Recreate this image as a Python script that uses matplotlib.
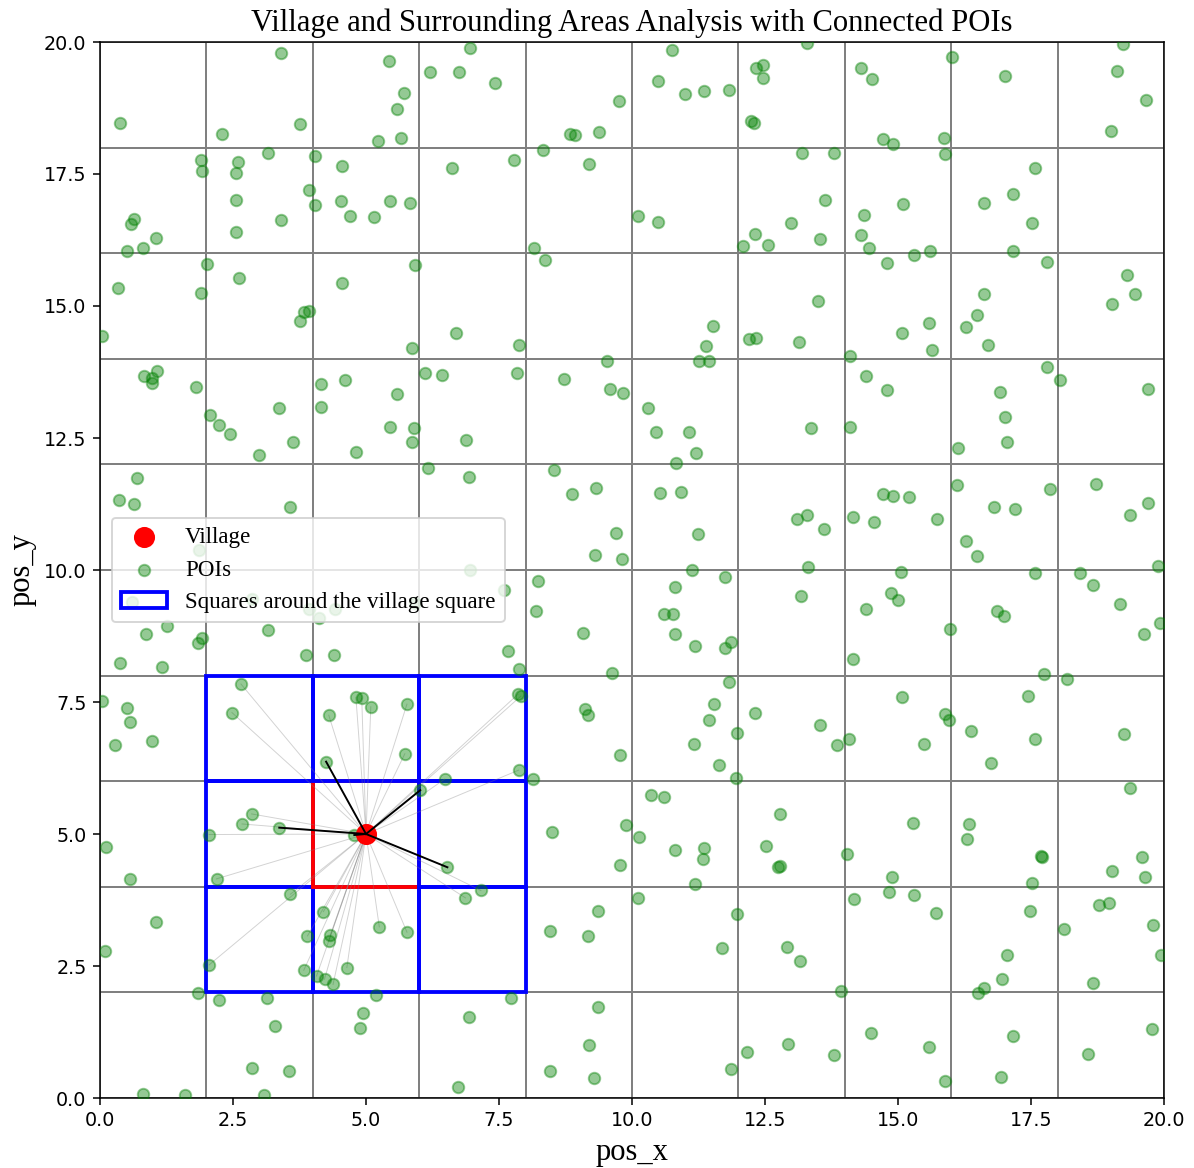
import matplotlib
matplotlib.use("Agg")
import matplotlib.pyplot as plt
from matplotlib.patches import Rectangle
import numpy as np

# village position and grid layout
village_x = 5.0
village_y = 5.0
cell = 2
n_cells = 10
n_nearest = 5

# POI positions (grouped roughly by region)
poi_x = [
    # top left
    3.40, 5.43, 6.21, 5.72, 5.58, 0.38, 3.76, 2.29, 5.23, 5.66,
    3.16, 4.04, 1.90, 1.92, 2.60, 2.55, 4.55, 6.62, 3.93, 4.04,
    2.55, 4.53, 5.46, 5.82, 4.69, 5.15, 3.40, 0.64, 0.58, 1.05,
    0.51, 0.80, 2.55, 2.01, 2.62, 0.33, 1.90, 4.55, 5.92, 3.92,
    3.84, 3.75, 0.04, 5.87, 1.07, 0.83, 0.97, 0.97, 1.80, 4.15,
    4.61, 5.58, 6.10, 6.43,
    # top middle
    6.95, 6.75, 7.42, 9.76, 8.83, 8.92, 9.38, 10.75, 10.48, 11.00,
    11.36, 11.82, 12.33, 12.46, 12.47, 12.23, 12.29, 13.29, 7.78, 8.32,
    9.20, 13.20, 10.11, 10.48, 8.16, 8.37, 12.32, 12.09, 12.56, 12.98,
    6.70, 7.88, 7.83, 8.73, 9.53, 9.59, 9.83, 11.52, 11.39, 11.25,
    11.44, 12.19, 12.33, 13.14,
    # top right
    14.30, 14.51, 16.01, 17.01, 19.22, 19.12, 19.66, 19.00, 14.72, 14.90,
    15.86, 15.88, 13.79, 13.63, 13.53, 14.36, 14.30, 14.46, 15.10, 14.79,
    15.31, 15.60, 16.62, 17.16, 17.58, 17.52, 17.16, 17.81, 13.50, 15.08,
    15.59, 15.64, 14.10, 14.40, 14.79, 16.62, 16.49, 16.27, 16.70, 16.91,
    17.81, 18.04, 19.69, 19.30, 19.46, 19.02,
    # middle left
    2.07, 2.24, 2.44, 3.37, 3.63, 2.98, 4.15, 5.46, 5.90, 5.87,
    4.82, 6.16, 0.69, 0.35, 0.64, 3.58, 1.86, 0.60, 2.85, 3.92,
    4.12, 4.42, 5.92, 6.95, 7.59, 1.25, 0.86, 1.85, 1.92, 3.16,
    3.88, 4.40, 0.38, 1.16, 0.04, 0.51, 0.56, 0.28, 0.97, 2.65,
    2.48, 4.30, 4.81, 4.92, 5.09, 5.77,
    # middle
    10.31, 10.46, 11.07, 11.21, 10.82, 6.88, 6.93, 8.53, 8.87, 9.32,
    9.69, 9.30, 9.82, 10.53, 10.93, 11.24, 13.10, 13.29, 13.36, 13.31,
    11.13, 11.75, 10.80, 8.24, 8.20, 10.61, 10.78, 13.17, 9.07, 10.80,
    11.18, 11.75, 11.86, 7.66, 7.88, 9.63, 11.83, 7.86, 7.91, 9.12,
    9.17, 11.54, 11.44, 12.32, 11.98, 11.16, 9.77,
    # middle right
    14.10, 17.01, 17.04, 16.13, 16.11, 17.86, 18.72, 19.69, 19.36, 16.80,
    17.19, 16.28, 16.49, 14.72, 14.90, 15.21, 14.15, 14.55, 15.73, 13.61,
    15.05, 17.58, 18.42, 18.67, 19.89, 19.18, 19.62, 19.92, 14.87, 15.00,
    14.40, 16.86, 16.99, 15.98, 14.15, 17.75, 18.17, 17.45, 15.08, 15.88,
    15.96, 16.37, 17.58, 19.24, 13.53, 14.07, 13.86, 15.49,
    # bottom left
    4.25, 5.73, 6.48, 6.02, 2.85, 2.67, 3.37, 2.05, 4.78, 0.11,
    0.56, 2.19, 6.53, 3.58, 4.20, 5.25, 5.77, 1.05, 0.09, 3.90,
    4.33, 4.30, 2.05, 3.83, 4.07, 4.22, 4.38, 4.64, 1.85, 2.24,
    3.14, 5.18, 4.94, 4.89, 3.29, 2.86, 3.55, 0.80, 1.59, 3.09,
    6.72,
    # bottom middle
    11.64, 11.95, 7.87, 8.14, 10.35, 10.60, 12.78, 8.50, 9.89, 10.13,
    10.80, 11.36, 11.34, 12.52, 12.74, 12.78, 9.77, 11.18, 7.16, 6.87,
    10.11, 9.36, 8.45, 9.17, 11.98, 11.70, 12.91, 13.16, 7.73, 6.93,
    9.36, 9.20, 8.45, 9.29, 12.16, 11.87, 12.93,
    # bottom right
    16.75, 19.36, 15.28, 16.34, 16.29, 14.05, 17.69, 17.70, 19.59, 14.89,
    19.02, 19.64, 17.52, 14.17, 14.84, 15.31, 15.72, 17.48, 18.78, 18.97,
    18.12, 19.79, 19.94, 17.04, 16.96, 16.62, 16.51, 18.66, 13.92, 14.49,
    13.79, 15.59, 15.88, 17.16, 16.94, 18.58, 19.77,
]

poi_y = [
    # top left
    19.80, 19.64, 19.43, 19.04, 18.73, 18.47, 18.44, 18.26, 18.13, 18.18,
    17.90, 17.85, 17.77, 17.56, 17.72, 17.51, 17.66, 17.61, 17.20, 16.91,
    17.01, 16.99, 16.99, 16.96, 16.70, 16.68, 16.63, 16.65, 16.55, 16.29,
    16.05, 16.09, 16.40, 15.80, 15.53, 15.35, 15.25, 15.43, 15.77, 14.91,
    14.89, 14.72, 14.44, 14.21, 13.77, 13.67, 13.63, 13.54, 13.46, 13.52,
    13.59, 13.33, 13.74, 13.69,
    # top middle
    19.89, 19.43, 19.22, 18.89, 18.26, 18.24, 18.29, 19.85, 19.27, 19.02,
    19.07, 19.10, 19.51, 19.56, 19.31, 18.50, 18.47, 19.98, 17.77, 17.95,
    17.69, 17.90, 16.70, 16.60, 16.09, 15.87, 16.36, 16.14, 16.16, 16.57,
    14.49, 14.26, 13.74, 13.62, 13.95, 13.43, 13.35, 14.63, 14.24, 13.95,
    13.95, 14.37, 14.39, 14.32,
    # top right
    19.51, 19.30, 19.71, 19.35, 19.96, 19.46, 18.91, 18.31, 18.16, 18.06,
    18.19, 17.87, 17.90, 17.01, 16.26, 16.72, 16.34, 16.09, 16.94, 15.82,
    15.97, 16.05, 16.96, 17.12, 17.61, 16.57, 16.05, 15.84, 15.09, 14.49,
    14.68, 14.16, 14.06, 13.67, 13.41, 15.22, 14.83, 14.60, 14.26, 13.38,
    13.85, 13.59, 13.43, 15.59, 15.23, 15.04,
    # middle left
    12.94, 12.75, 12.58, 13.06, 12.42, 12.18, 13.09, 12.70, 12.68, 12.42,
    12.23, 11.94, 11.74, 11.33, 11.25, 11.20, 10.37, 9.40, 9.45, 9.27,
    9.10, 9.27, 9.37, 10.00, 9.63, 8.93, 8.78, 8.62, 8.71, 8.86,
    8.39, 8.39, 8.23, 8.16, 7.52, 7.38, 7.12, 6.69, 6.76, 7.84,
    7.30, 7.25, 7.59, 7.57, 7.41, 7.46,
    # middle
    13.06, 12.62, 12.62, 12.21, 12.03, 12.46, 11.76, 11.89, 11.43, 11.56,
    10.70, 10.29, 10.21, 11.46, 11.48, 10.68, 10.97, 11.04, 12.68, 10.06,
    10.00, 9.87, 9.68, 9.79, 9.22, 9.17, 9.17, 9.51, 8.80, 8.78,
    8.57, 8.52, 8.63, 8.47, 8.12, 8.05, 7.87, 7.65, 7.61, 7.36,
    7.25, 7.46, 7.16, 7.30, 6.91, 6.70, 6.50,
    # middle right
    12.70, 12.90, 12.42, 12.31, 11.61, 11.53, 11.63, 11.27, 11.04, 11.19,
    11.15, 10.54, 10.27, 11.43, 11.40, 11.38, 11.01, 10.91, 10.97, 10.78,
    9.97, 9.94, 9.94, 9.72, 10.08, 9.36, 8.78, 8.99, 9.56, 9.43,
    9.27, 9.23, 9.12, 8.88, 8.31, 8.03, 7.93, 7.61, 7.59, 7.27,
    7.16, 6.96, 6.80, 6.89, 7.07, 6.80, 6.68, 6.70,
    # bottom left
    6.37, 6.52, 6.04, 5.83, 5.38, 5.19, 5.12, 4.99, 4.98, 4.76,
    4.15, 4.15, 4.37, 3.86, 3.53, 3.24, 3.14, 3.33, 2.78, 3.07,
    3.09, 2.98, 2.52, 2.42, 2.31, 2.25, 2.15, 2.47, 1.98, 1.86,
    1.89, 1.95, 1.61, 1.32, 1.37, 0.57, 0.52, 0.08, 0.05, 0.06,
    0.20,
    # bottom middle
    6.31, 6.06, 6.21, 6.04, 5.74, 5.71, 5.37, 5.04, 5.17, 4.94,
    4.70, 4.73, 4.52, 4.78, 4.38, 4.40, 4.42, 4.05, 3.93, 3.79,
    3.79, 3.54, 3.17, 3.06, 3.48, 2.84, 2.86, 2.59, 1.89, 1.53,
    1.72, 1.01, 0.52, 0.37, 0.88, 0.55, 1.02,
    # bottom right
    6.34, 5.87, 5.21, 5.19, 4.91, 4.62, 4.58, 4.57, 4.57, 4.18,
    4.29, 4.18, 4.08, 3.77, 3.90, 3.84, 3.51, 3.54, 3.66, 3.69,
    3.20, 3.27, 2.70, 2.70, 2.26, 2.08, 1.98, 2.18, 2.03, 1.23,
    0.81, 0.97, 0.32, 1.17, 0.39, 0.83, 1.30,
]

serif = 'Liberation Serif'

px = np.array(poi_x)
py = np.array(poi_y)

fig = plt.figure(figsize=(1194 / 138, 1168 / 138), dpi=138)
ax = fig.add_axes([100 / 1194, 70 / 1168, 1064 / 1194, 1056 / 1168])

# grey grid of squares
for i in range(n_cells):
    for j in range(n_cells):
        ax.add_patch(Rectangle((i * cell, j * cell), cell, cell, fill=False,
                               edgecolor='gray', lw=1, zorder=1))

# village square (red) and its neighbours (blue), drawn in loop order
ci = int(village_x // cell)
cj = int(village_y // cell)
for dx in (-1, 0, 1):
    for dy in (-1, 0, 1):
        x0 = (ci + dx) * cell
        y0 = (cj + dy) * cell
        color = 'red' if (dx == 0 and dy == 0) else 'blue'
        ax.add_patch(Rectangle((x0, y0), cell, cell, fill=False,
                               edgecolor=color, lw=2, zorder=1.5))

# connect village to POIs inside the 3x3 block
lo_x, hi_x = (ci - 1) * cell, (ci + 2) * cell
lo_y, hi_y = (cj - 1) * cell, (cj + 2) * cell
inside = (px >= lo_x) & (px <= hi_x) & (py >= lo_y) & (py <= hi_y)
for x, y in zip(px[inside], py[inside]):
    ax.plot([village_x, x], [village_y, y], color='gray', lw=0.5, alpha=0.35, zorder=2)

# the closest few get a dark line
dist = np.hypot(px - village_x, py - village_y)
nearest = np.argsort(dist)[:n_nearest]
for k in nearest:
    ax.plot([village_x, px[k]], [village_y, py[k]], color='black', lw=1, zorder=4)

poi_h = ax.scatter(px, py, c='green', s=36, alpha=0.42, zorder=3, label='POIs')
village_h = ax.scatter([village_x], [village_y], c='red', s=100, zorder=3.5, label='Village')

square_leg = Rectangle((0, 0), 1, 1, fill=False, edgecolor='blue', lw=2,
                       label='Squares around the village square')
ax.legend(handles=[village_h, poi_h, square_leg], loc='center left',
          prop={'family': serif, 'size': 12})

ax.set_xlim(0, 20)
ax.set_ylim(0, 20)
ax.set_title('Village and Surrounding Areas Analysis with Connected POIs',
             fontfamily=serif, fontsize=16)
ax.set_xlabel('pos_x', fontfamily=serif, fontsize=16)
ax.set_ylabel('pos_y', fontfamily=serif, fontsize=16)

fig.savefig('out.png', dpi=138)
